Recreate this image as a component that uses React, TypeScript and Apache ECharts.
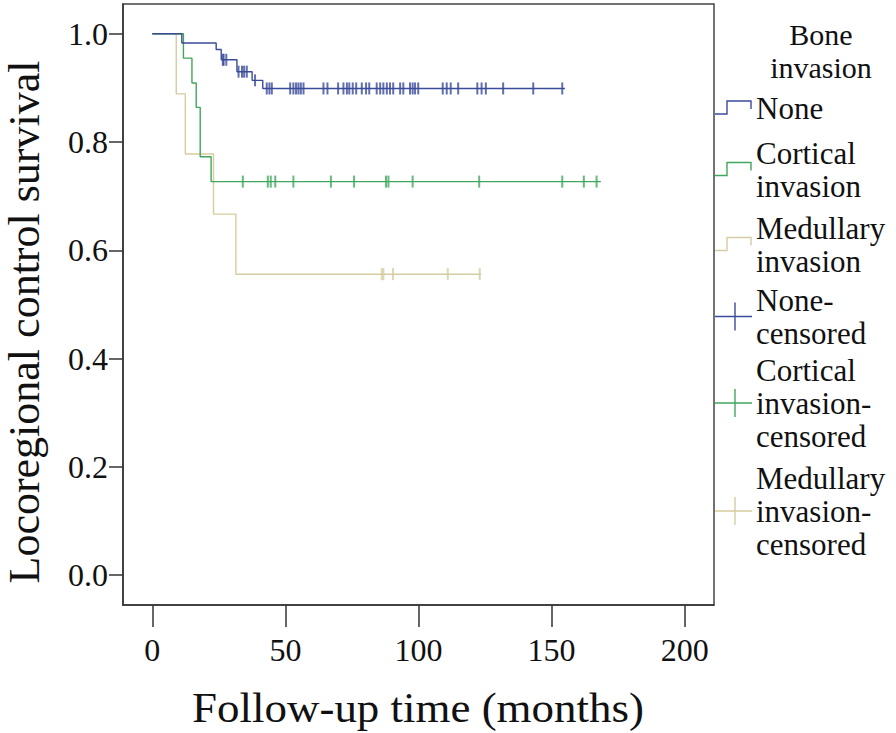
import React, { useEffect, useRef } from "react";
import * as echarts from "echarts";

// Kaplan-Meier step points [time (months), survival]
const noneCurve: [number, number][] = [
  [0, 1.0], [11.1, 0.983], [24.0, 0.971], [25.9, 0.952], [31.8, 0.93], [37.5, 0.914], [41.5, 0.899], [155, 0.899],
];
const corticalCurve: [number, number][] = [
  [0, 1.0], [11.7, 0.955], [14.9, 0.909], [16.5, 0.864], [18.0, 0.773], [22.1, 0.727], [168.5, 0.727],
];
const medullaryCurve: [number, number][] = [
  [0, 1.0], [9.0, 0.889], [12.4, 0.778], [23.0, 0.667], [31.4, 0.556], [123.5, 0.556],
];

// censoring times (months)
const noneCensored = [
  26.5, 26.8, 27.8, 32.4, 33.7, 34.5, 35.5, 38.6, 43.0, 44.0, 44.9, 51.8, 53.0, 54.0, 54.9, 55.8, 56.8,
  64.3, 65.8, 69.8, 71.8, 73.1, 74.0, 75.3, 76.6, 78.7, 80.3, 81.5, 84.3, 85.6, 86.8, 88.1, 89.3, 90.5,
  93.1, 94.3, 96.8, 97.8, 98.7, 99.9, 109.1, 110.6, 112.1, 114.9, 122.1, 123.7, 125.3, 131.8, 143.1, 154.0,
];
const corticalCensored = [34.0, 43.4, 44.5, 46.2, 53.0, 67.1, 75.8, 87.8, 88.7, 97.8, 122.8, 154.0, 162.1, 166.9];
const medullaryCensored = [86.2, 86.8, 90.4, 111.0, 123.0];

const xTicks = [0, 50, 100, 150, 200];
const yTicks = [0, 0.2, 0.4, 0.6, 0.8, 1.0];

const legendTitle = ["Bone", "invasion"];
const legendLabels: string[][] = [
  ["None"],
  ["Cortical", "invasion"],
  ["Medullary", "invasion"],
  ["None-", "censored"],
  ["Cortical", "invasion-", "censored"],
  ["Medullary", "invasion-", "censored"],
];

const BLUE = "#3a4b9a";
const GREEN = "#3fa75c";
const BEIGE = "#d5cd9f";
const FONT = "Liberation Serif";

function levelAt(curve: [number, number][], t: number) {
  let v = curve[0][1];
  for (const [x, y] of curve) if (x <= t) v = y;
  return v;
}

export default function App() {
  const ref = useRef<HTMLDivElement>(null);
  useEffect(() => {
    if (!ref.current) return;
    const chart = echarts.init(ref.current, null, { renderer: "svg" });

    const stepSeries = (name: string, data: [number, number][], color: string) => ({
      name,
      type: "line",
      step: "end",
      data,
      symbol: "none",
      lineStyle: { color, width: 1.4 },
      z: 2,
    });
    const censSeries = (name: string, times: number[], curve: [number, number][], color: string) => ({
      name,
      type: "scatter",
      data: times.map((t) => [t, levelAt(curve, t)]),
      symbol: "rect",
      symbolSize: [2, 12],
      itemStyle: { color },
      z: 3,
    });

    // legend graphics
    const firstLine = [108, 153, 228, 300, 370, 478];
    const lh = 33;
    const colors = [BLUE, GREEN, BEIGE, BLUE, GREEN, BEIGE];
    const graphics: any[] = [];
    legendTitle.forEach((t, i) => {
      graphics.push({
        type: "text",
        x: 821,
        y: 34 + i * 33,
        style: { text: t, fontSize: 30, fontFamily: FONT, fill: "#111", align: "center", verticalAlign: "middle" },
      });
    });
    legendLabels.forEach((lines, k) => {
      lines.forEach((t, i) => {
        graphics.push({
          type: "text",
          x: 756,
          y: firstLine[k] + i * lh,
          style: { text: t, fontSize: 31, fontFamily: FONT, fill: "#111", align: "left", verticalAlign: "middle" },
        });
      });
      const c = firstLine[k] + ((lines.length - 1) * lh) / 2;
      if (k < 3) {
        graphics.push({
          type: "polyline",
          shape: { points: [[715, c + 6], [727, c + 6], [727, c - 7], [751, c - 7], [751, c + 1]] },
          style: { stroke: colors[k], lineWidth: 1.4, fill: "none" },
        });
      } else {
        graphics.push({
          type: "line",
          shape: { x1: 715, y1: c, x2: 752, y2: c },
          style: { stroke: colors[k], lineWidth: 1.4 },
        });
        graphics.push({
          type: "line",
          shape: { x1: 735, y1: c - 14, x2: 735, y2: c + 14 },
          style: { stroke: colors[k], lineWidth: 1.4 },
        });
      }
    });
    // axis titles
    graphics.push({
      type: "text",
      x: 418,
      y: 708,
      scaleX: 1.07,
      style: { text: "Follow-up time (months)", fontSize: 42, fontFamily: FONT, fill: "#111", align: "center", verticalAlign: "middle" },
    });
    graphics.push({
      type: "text",
      x: 24,
      y: 322,
      rotation: Math.PI / 2,
      style: { text: "Locoregional control survival", fontSize: 44, fontFamily: FONT, fill: "#111", align: "center", verticalAlign: "middle" },
    });

    chart.setOption({
      animation: false,
      backgroundColor: "#ffffff",
      grid: { left: 123, top: 4, width: 591, height: 601, show: true, borderColor: "#444", borderWidth: 1.5, backgroundColor: "transparent" },
      xAxis: {
        type: "value",
        min: -11,
        max: 211,
        axisLine: { show: true, onZero: false, lineStyle: { color: "#333", width: 1.5 } },
        axisTick: { show: true, length: 22, customValues: xTicks, lineStyle: { color: "#333", width: 1.5 } },
        axisLabel: { customValues: xTicks, margin: 29, fontSize: 32, fontFamily: FONT, color: "#111" },
        splitLine: { show: false },
      },
      yAxis: {
        type: "value",
        min: -0.055,
        max: 1.055,
        axisLine: { show: true, onZero: false, lineStyle: { color: "#333", width: 1.5 } },
        axisTick: { show: true, length: 14, customValues: yTicks, lineStyle: { color: "#333", width: 1.5 } },
        axisLabel: {
          customValues: yTicks,
          margin: 15,
          fontSize: 32,
          fontFamily: FONT,
          color: "#111",
          formatter: (v: number) => v.toFixed(1),
        },
        splitLine: { show: false },
      },
      series: [
        stepSeries("Medullary invasion", medullaryCurve, BEIGE),
        stepSeries("Cortical invasion", corticalCurve, GREEN),
        stepSeries("None", noneCurve, BLUE),
        censSeries("Medullary invasion-censored", medullaryCensored, medullaryCurve, BEIGE),
        censSeries("Cortical invasion-censored", corticalCensored, corticalCurve, GREEN),
        censSeries("None-censored", noneCensored, noneCurve, BLUE),
      ],
      graphic: graphics,
    });
    return () => chart.dispose();
  }, []);
  return <div ref={ref} style={{ position: "absolute", left: 0, top: 0, width: 896, height: 733 }} />;
}
